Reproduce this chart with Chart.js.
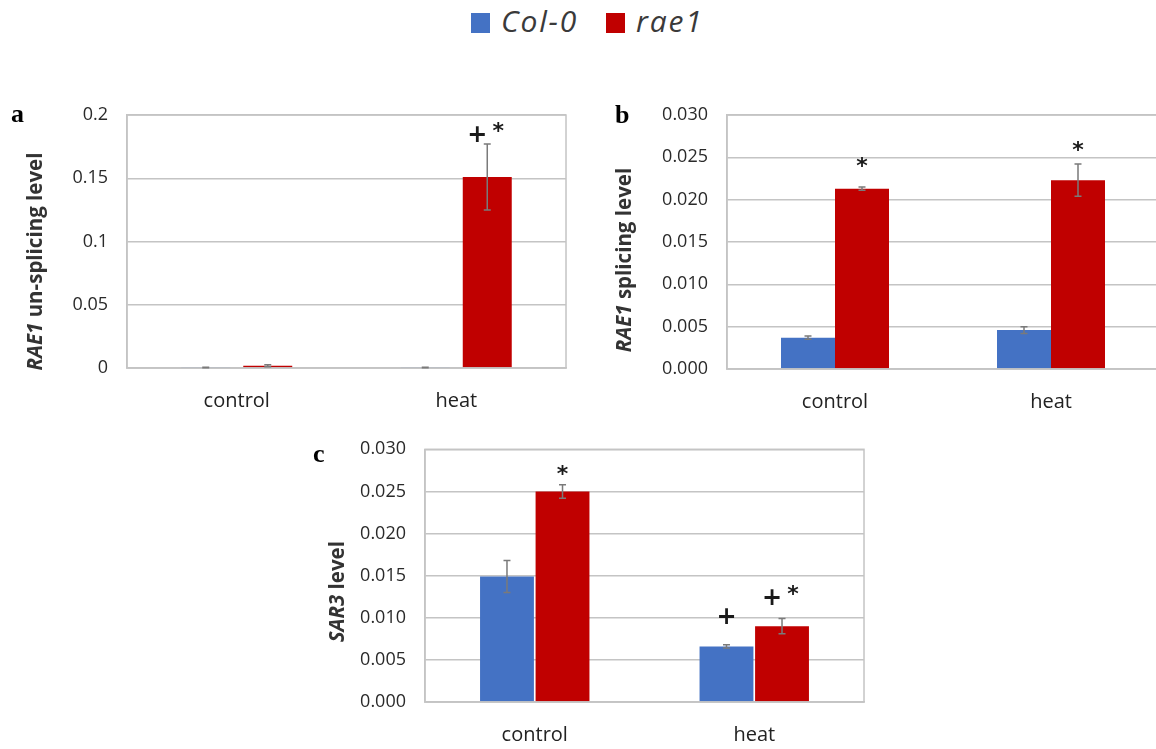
<!DOCTYPE html>
<html>
<head>
<meta charset="utf-8">
<script src="https://cdn.jsdelivr.net/npm/chart.js@4.4.1/dist/chart.umd.min.js"></script>
<style>
  html, body { margin: 0; padding: 0; background: #fff; width: 1156px; height: 749px; overflow: hidden; position: relative; }
  canvas.panel { position: absolute; }
  #legend { position: absolute; left: 0; top: 0; width: 1156px; height: 50px;
            font-family: "Open Sans", sans-serif; font-style: italic; font-size: 30px; line-height: 30px;
            letter-spacing: 1.8px; color: #3a3a3a; }
  #legend .sw { position: absolute; width: 19px; height: 20px; }
  #legend .lt { position: absolute; white-space: nowrap; }
</style>
</head>
<body>
<div id="legend">
  <span class="sw" style="left:471px; top:13px; background:#4472C4"></span>
  <span class="lt" id="lg0" style="left:501px; top:6px"></span>
  <span class="sw" style="left:606px; top:13px; background:#C00000"></span>
  <span class="lt" id="lg1" style="left:636px; top:6px"></span>
</div>
<canvas class="panel" id="chartA" width="580" height="330" style="left:0px; top:90px"></canvas>
<canvas class="panel" id="chartB" width="580" height="330" style="left:590px; top:90px"></canvas>
<canvas class="panel" id="chartC" width="580" height="324" style="left:300px; top:425px"></canvas>

<script>
// ---- shared labels ----
const categories = ['control', 'heat'];
const seriesNames = ['Col-0', 'rae1'];

// ---- a: RAE1 un-splicing level ----
const unsplicedCol0    = [0.0004, 0.0004];
const unsplicedCol0Err = [0.0002, 0.0002];
const unsplicedRae1    = [0.0018, 0.151];
const unsplicedRae1Err = [0.0008, 0.026];
const unsplicedSigCol0 = ['', ''];
const unsplicedSigRae1 = ['', '+ *'];
const unsplicedTicks   = ['0', '0.05', '0.1', '0.15', '0.2'];

// ---- b: RAE1 splicing level ----
const splicedCol0    = [0.0037, 0.0046];
const splicedCol0Err = [0.0002, 0.0004];
const splicedRae1    = [0.0213, 0.0223];
const splicedRae1Err = [0.0002, 0.0019];
const splicedSigCol0 = ['', ''];
const splicedSigRae1 = ['*', '*'];

// ---- c: SAR3 level ----
const sar3Col0    = [0.0149, 0.0066];
const sar3Col0Err = [0.0019, 0.0002];
const sar3Rae1    = [0.0250, 0.0090];
const sar3Rae1Err = [0.0008, 0.0009];
const sar3SigCol0 = ['', '+'];
const sar3SigRae1 = ['*', '+ *'];

const levelTicks = ['0.000', '0.005', '0.010', '0.015', '0.020', '0.025', '0.030'];

document.getElementById('lg0').textContent = seriesNames[0];
document.getElementById('lg1').textContent = seriesNames[1];

const BLUE = '#4472C4';
const RED = '#C00000';
const GRID = '#c4c4c4';
const TEXT = '#333333';

// Draws panel letter, mixed-style axis title, frame, error bars and significance marks.
const panelDecor = {
  id: 'panelDecor',
  afterDatasetsDraw(chart, args, opts) {
    const ctx = chart.ctx;
    const area = chart.chartArea;
    const yScale = chart.scales.y;

    // plot frame
    ctx.save();
    ctx.strokeStyle = GRID;
    ctx.lineWidth = 1.5;
    ctx.strokeRect(area.left, area.top, area.right - area.left, area.bottom - area.top);
    ctx.restore();

    // error bars
    const errTops = [];
    chart.data.datasets.forEach((ds, i) => {
      const meta = chart.getDatasetMeta(i);
      errTops[i] = [];
      meta.data.forEach((bar, j) => {
        const v = ds.data[j];
        const e = opts.errors[i][j];
        const yTop = yScale.getPixelForValue(v + e);
        const yBot = yScale.getPixelForValue(Math.max(0, v - e));
        errTops[i][j] = yTop;
        ctx.save();
        ctx.strokeStyle = '#7a7a7a';
        ctx.lineWidth = 1.5;
        ctx.beginPath();
        ctx.moveTo(bar.x, yTop); ctx.lineTo(bar.x, yBot);
        ctx.moveTo(bar.x - 3.5, yTop); ctx.lineTo(bar.x + 3.5, yTop);
        ctx.moveTo(bar.x - 3.5, yBot); ctx.lineTo(bar.x + 3.5, yBot);
        ctx.stroke();
        ctx.restore();
      });
    });

    // significance marks
    const drawGlyph = (ch, cx, cy) => {
      ctx.font = (ch === '+' ? '900 24px "DejaVu Sans"' : 'bold 22px "DejaVu Sans"');
      ctx.textAlign = 'center';
      ctx.textBaseline = 'alphabetic';
      const m = ctx.measureText(ch);
      const asc = m.actualBoundingBoxAscent, desc = m.actualBoundingBoxDescent;
      ctx.fillText(ch, cx, cy + (asc - desc) / 2);
    };
    ctx.save();
    ctx.fillStyle = '#1a1a1a';
    chart.data.datasets.forEach((ds, i) => {
      const meta = chart.getDatasetMeta(i);
      meta.data.forEach((bar, j) => {
        const txt = opts.sig[i][j];
        if (!txt) return;
        const cy = errTops[i][j] - opts.lift[i][j];
        const parts = txt.split(' ');
        if (parts.length === 1) {
          drawGlyph(parts[0], bar.x, cy);
        } else {
          drawGlyph(parts[0], bar.x - 10, cy);
          drawGlyph(parts[1], bar.x + 11, cy - 7);
        }
      });
    });
    ctx.restore();

    // y axis title with an italic gene name
    ctx.save();
    ctx.fillStyle = TEXT;
    ctx.translate(opts.titleX, (area.top + area.bottom) / 2 + opts.titleShift);
    ctx.rotate(-Math.PI / 2);
    ctx.textBaseline = 'middle';
    ctx.textAlign = 'left';
    const fontOf = (it) => (it ? 'italic ' : '') + 'bold 20.5px "Open Sans"';
    let total = 0;
    opts.title.forEach(([t, it]) => { ctx.font = fontOf(it); total += ctx.measureText(t).width; });
    let x = -total / 2;
    opts.title.forEach(([t, it]) => { ctx.font = fontOf(it); ctx.fillText(t, x, 0); x += ctx.measureText(t).width; });
    ctx.restore();

    // panel letter
    ctx.save();
    ctx.fillStyle = '#000';
    ctx.font = 'bold 26px "Liberation Serif"';
    ctx.textAlign = 'left';
    ctx.textBaseline = 'alphabetic';
    ctx.fillText(opts.letter, opts.letterX, opts.letterY);
    ctx.restore();
  }
};

function makeChart(id, cfg) {
  return new Chart(document.getElementById(id), {
    type: 'bar',
    data: {
      labels: categories,
      datasets: [
        { label: seriesNames[0], data: cfg.col0, backgroundColor: BLUE, borderWidth: 0,
          categoryPercentage: cfg.cat, barPercentage: cfg.bar },
        { label: seriesNames[1], data: cfg.rae1, backgroundColor: RED, borderWidth: 0,
          categoryPercentage: cfg.cat, barPercentage: cfg.bar }
      ]
    },
    options: {
      responsive: false,
      animation: false,
      layout: { padding: cfg.padding },
      plugins: {
        legend: { display: false },
        tooltip: { enabled: false },
        panelDecor: {
          errors: cfg.errors, sig: cfg.sig, lift: cfg.lift,
          title: cfg.title, titleX: cfg.titleX, titleShift: cfg.titleShift,
          letter: cfg.letter, letterX: cfg.letterX, letterY: cfg.letterY
        }
      },
      scales: {
        x: {
          grid: { display: false, drawTicks: false },
          border: { display: true, color: GRID, width: 1.5 },
          ticks: { color: '#222', font: { family: 'Open Sans', size: 20 }, padding: 21, maxRotation: 0 },
          afterFit: (s) => { s.height = cfg.xHeight; }
        },
        y: {
          min: 0, max: cfg.max,
          // invisible tick marks keep the labels clear of the axis
          grid: { color: GRID, lineWidth: 1.5, drawTicks: true, tickLength: 17, tickColor: 'rgba(0,0,0,0)' },
          border: { display: true, color: GRID, width: 1.5 },
          ticks: {
            stepSize: cfg.step, padding: 2, color: '#2a2a2a',
            font: { family: 'Open Sans', size: 18 },
            callback: (v, i) => cfg.ticks[i]
          },
          afterFit: (s) => { s.width = cfg.yWidth; }
        }
      }
    },
    plugins: [panelDecor]
  });
}

makeChart('chartA', {
  col0: unsplicedCol0, rae1: unsplicedRae1,
  errors: [unsplicedCol0Err, unsplicedRae1Err],
  sig: [unsplicedSigCol0, unsplicedSigRae1],
  lift: [[0, 0], [0, 10]],
  max: 0.2, step: 0.05, ticks: unsplicedTicks,
  cat: 0.565, bar: 0.79,
  padding: { top: 25, right: 14, left: 0, bottom: 0 },
  yWidth: 127, xHeight: 52,
  title: [['RAE1', true], [' un-splicing level', false]],
  titleX: 36, titleShift: 20,
  letter: 'a', letterX: 11, letterY: 32
});

makeChart('chartB', {
  col0: splicedCol0, rae1: splicedRae1,
  errors: [splicedCol0Err, splicedRae1Err],
  sig: [splicedSigCol0, splicedSigRae1],
  lift: [[0, 0], [25, 18]],
  max: 0.03, step: 0.005, ticks: levelTicks,
  cat: 0.5, bar: 1.0,
  padding: { top: 25, right: 11, left: 0, bottom: 0 },
  yWidth: 137, xHeight: 51,
  title: [['RAE1', true], [' splicing level', false]],
  titleX: 35, titleShift: 18,
  letter: 'b', letterX: 25, letterY: 33
});

makeChart('chartC', {
  col0: sar3Col0, rae1: sar3Rae1,
  errors: [sar3Col0Err, sar3Rae1Err],
  sig: [sar3SigCol0, sar3SigRae1],
  lift: [[0, 29], [15, 22]],
  max: 0.03, step: 0.005, ticks: levelTicks,
  cat: 0.506, bar: 0.97,
  padding: { top: 24.3, right: 16, left: 0, bottom: 0 },
  yWidth: 125, xHeight: 47,
  title: [['SAR3', true], [' level', false]],
  titleX: 38, titleShift: 16,
  letter: 'c', letterX: 13, letterY: 37
});
</script>
</body>
</html>
